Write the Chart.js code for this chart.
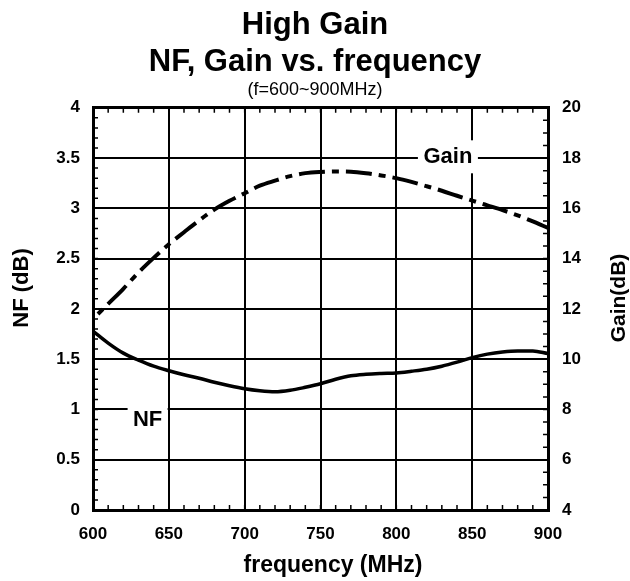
<!DOCTYPE html>
<html>
<head>
<meta charset="utf-8">
<title>High Gain NF, Gain vs. frequency</title>
<script src="https://cdn.jsdelivr.net/npm/chart.js@4/dist/chart.umd.min.js"></script>
<style>
  html, body { margin: 0; padding: 0; background: #fff; }
  canvas { display: block; }
</style>
</head>
<body>
<canvas id="nfgain" width="630" height="581"></canvas>
<script>
// frequency sweep, MHz
var freq = [600, 610, 620, 630, 640, 650, 660, 670, 680, 690, 700,
            710, 720, 730, 740, 750, 760, 770, 780, 790, 800,
            810, 820, 830, 840, 850, 860, 870, 880, 890, 900];
// noise figure, dB (left axis)
var nf = [1.78, 1.66, 1.56, 1.49, 1.43, 1.385, 1.345, 1.31, 1.27, 1.235, 1.205,
          1.185, 1.175, 1.19, 1.22, 1.255, 1.30, 1.335, 1.35, 1.358, 1.363,
          1.38, 1.40, 1.43, 1.47, 1.515, 1.55, 1.572, 1.582, 1.582, 1.555];
// gain, dB (right axis)
var gain = [11.6, 12.2, 12.8, 13.45, 14.03, 14.57, 15.05, 15.52, 15.95, 16.3, 16.6,
            16.9, 17.1, 17.28, 17.4, 17.45, 17.47, 17.46, 17.4, 17.31, 17.2,
            17.05, 16.88, 16.7, 16.5, 16.31, 16.12, 15.93, 15.72, 15.48, 15.22];

var freqTicks = [600, 650, 700, 750, 800, 850, 900];
var nfTicks = [0, 0.5, 1, 1.5, 2, 2.5, 3, 3.5, 4];
var gainTicks = [4, 6, 8, 10, 12, 14, 16, 18, 20];

Chart.defaults.font.family = "'Liberation Sans', Arial, sans-serif";
Chart.defaults.color = '#000';

function toPoints(xs, ys) {
  return xs.map(function (x, i) { return {x: x, y: ys[i]}; });
}

function fixedTicks(values) {
  return function (scale) {
    scale.ticks = values.map(function (v) { return {value: v}; });
  };
}

// inward minor ticks, axis titles and the curve labels
var decorations = {
  id: 'decorations',
  beforeDatasetsDraw: function (chart) {
    var ctx = chart.ctx, a = chart.chartArea;
    var x = chart.scales.x, y = chart.scales.y, y2 = chart.scales.y2;
    var len = 5, v, p;
    ctx.save();
    ctx.strokeStyle = '#000';
    ctx.lineWidth = 1.5;
    ctx.beginPath();
    for (v = 610; v < 900; v += 10) {
      p = x.getPixelForValue(v);
      ctx.moveTo(p, a.bottom); ctx.lineTo(p, a.bottom - len);
      ctx.moveTo(p, a.top); ctx.lineTo(p, a.top + len);
    }
    for (v = 1; v < 40; v++) {
      p = y.getPixelForValue(v / 10);
      ctx.moveTo(a.left, p); ctx.lineTo(a.left + len, p);
    }
    for (v = 9; v < 40; v++) {
      p = y2.getPixelForValue(v / 2);
      ctx.moveTo(a.right, p); ctx.lineTo(a.right - len, p);
    }
    ctx.stroke();
    ctx.restore();
  },
  afterDatasetsDraw: function (chart) {
    var ctx = chart.ctx;
    var x = chart.scales.x, y = chart.scales.y, y2 = chart.scales.y2;
    ctx.save();
    ctx.fillStyle = '#000';
    ctx.textAlign = 'center';
    ctx.textBaseline = 'middle';
    ctx.font = "bold 22px 'Liberation Sans', Arial, sans-serif";

    // series labels on white patches
    var labels = [
      {text: 'Gain', cx: x.getPixelForValue(834), cy: y2.getPixelForValue(18.05), w: 60, h: 33},
      {text: 'NF', cx: x.getPixelForValue(636), cy: y.getPixelForValue(0.9), w: 40, h: 28}
    ];
    labels.forEach(function (l) {
      ctx.fillStyle = '#fff';
      ctx.fillRect(l.cx - l.w / 2, l.cy - l.h / 2, l.w, l.h);
      ctx.fillStyle = '#000';
      ctx.fillText(l.text, l.cx, l.cy);
    });

    // axis titles
    ctx.font = "bold 23px 'Liberation Sans', Arial, sans-serif";
    ctx.fillText('frequency (MHz)', 333, 566);
    ctx.save();
    ctx.font = "bold 22px 'Liberation Sans', Arial, sans-serif";
    ctx.translate(22, 288);
    ctx.rotate(-Math.PI / 2);
    ctx.fillText('NF (dB)', 0, 0);
    ctx.restore();
    ctx.save();
    ctx.font = "bold 21px 'Liberation Sans', Arial, sans-serif";
    ctx.translate(619, 298);
    ctx.rotate(-Math.PI / 2);
    ctx.fillText('Gain(dB)', 0, 0);
    ctx.restore();
    ctx.restore();
  }
};

new Chart(document.getElementById('nfgain'), {
  type: 'line',
  data: {
    datasets: [{
      label: 'NF',
      data: toPoints(freq, nf),
      yAxisID: 'y',
      borderColor: '#000',
      borderWidth: 3.5,
      pointRadius: 0,
      cubicInterpolationMode: 'monotone'
    }, {
      label: 'Gain',
      data: toPoints(freq, gain),
      yAxisID: 'y2',
      borderColor: '#000',
      borderWidth: 4,
      borderDash: [26, 7, 7, 7],
      borderDashOffset: 26,
      borderCapStyle: 'butt',
      pointRadius: 0,
      cubicInterpolationMode: 'monotone'
    }]
  },
  options: {
    responsive: false,
    animation: false,
    devicePixelRatio: 1,
    layout: {padding: 0},
    plugins: {
      legend: {display: false},
      tooltip: {enabled: false},
      title: {
        display: true,
        text: ['High Gain', 'NF, Gain vs. frequency'],
        font: {size: 31, weight: 'bold', lineHeight: 1.19},
        color: '#000',
        padding: {top: 7, bottom: 0}
      },
      subtitle: {
        display: true,
        text: '(f=600~900MHz)',
        font: {size: 18, weight: 'normal', lineHeight: 1.0},
        color: '#000',
        padding: {top: 0, bottom: 9}
      }
    },
    scales: {
      x: {
        type: 'linear',
        min: 600,
        max: 900,
        afterBuildTicks: fixedTicks(freqTicks),
        afterFit: function (s) { s.height = 71; },
        ticks: {font: {size: 17, weight: 'bold'}, padding: 14, maxRotation: 0},
        grid: {
          color: '#000',
          lineWidth: function (c) { return (c.tick && (c.tick.value === 600 || c.tick.value === 900)) ? 3 : 2; },
          drawTicks: false
        },
        border: {color: '#000', width: 3}
      },
      y: {
        type: 'linear',
        position: 'left',
        min: 0,
        max: 4,
        afterBuildTicks: fixedTicks(nfTicks),
        afterFit: function (s) { s.width = 93; },
        ticks: {font: {size: 17, weight: 'bold'}, padding: 13,
                callback: function (v) { return String(v); }},
        grid: {
          color: '#000',
          lineWidth: function (c) { return (c.tick && (c.tick.value === 0 || c.tick.value === 4)) ? 3 : 2; },
          drawTicks: false
        },
        border: {color: '#000', width: 3}
      },
      y2: {
        type: 'linear',
        position: 'right',
        min: 4,
        max: 20,
        afterBuildTicks: fixedTicks(gainTicks),
        afterFit: function (s) { s.width = 82; },
        ticks: {font: {size: 17, weight: 'bold'}, padding: 14,
                callback: function (v) { return String(v); }},
        grid: {drawOnChartArea: false, drawTicks: false},
        border: {color: '#000', width: 3}
      }
    }
  },
  plugins: [decorations]
});
</script>
</body>
</html>
